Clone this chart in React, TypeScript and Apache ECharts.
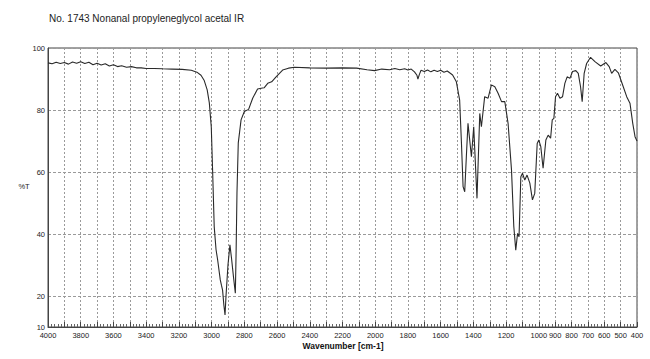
import React, { useEffect, useRef } from "react";
import * as echarts from "echarts";

const TITLE = "No. 1743 Nonanal propyleneglycol acetal IR";
const X_NAME = "Wavenumber [cm-1]";
const Y_NAME = "%T";

const wavenumbers: number[] = [
  4000, 3975, 3950, 3925, 3900, 3875, 3850, 3825, 3800, 3775, 3750, 3725, 3700, 3675, 3650, 3625,
  3600, 3575, 3550, 3520, 3490, 3460, 3430, 3400, 3350, 3300, 3241, 3180, 3124, 3090, 3065, 3045,
  3027, 3014, 3002, 2994, 2984, 2973, 2963, 2947, 2940, 2933, 2925, 2918, 2912, 2900, 2888, 2878,
  2866, 2855, 2850, 2845, 2837, 2820, 2800, 2774, 2749, 2719, 2690, 2678, 2657, 2633, 2606, 2566,
  2530, 2494, 2400, 2300, 2200, 2114, 2050, 2004, 1960, 1912, 1880, 1850, 1820, 1800, 1780, 1760,
  1745, 1739, 1730, 1720, 1700, 1680, 1660, 1640, 1620, 1600, 1580, 1560, 1545, 1527, 1504, 1484,
  1473, 1463, 1453, 1443, 1433, 1412, 1398, 1378, 1361, 1351, 1331, 1310, 1290, 1269, 1249, 1228,
  1208, 1188, 1167, 1153, 1141, 1130, 1121, 1110, 1100, 1086, 1072, 1055, 1039, 1025, 1010, 1000,
  988, 974, 957, 943, 928, 918, 908, 898, 886, 871, 855, 841, 827, 810, 794, 774,
  759, 745, 735, 723, 708, 684, 657, 622, 590, 570, 555, 535, 514, 484, 463, 443,
  426, 412, 400,
];

const transmittance: number[] = [
  95.2, 94.9, 95.4, 95.0, 95.3, 94.8, 95.5, 95.1, 95.6, 95.0, 95.4, 94.6, 95.1, 94.5, 94.9, 94.2,
  94.6, 94.0, 94.3, 93.8, 94.0, 93.6, 93.6, 93.4, 93.4, 93.3, 93.2, 93.1, 92.8, 92.2, 91.2, 89.5,
  86.5, 82.3, 74.5, 60.6, 42.3, 35.0, 31.6, 25.2, 23.5, 21.9, 17.0, 13.9, 20.0, 30.0, 36.5, 32.0,
  26.0, 20.9, 35.0, 53.2, 69.4, 76.8, 79.5, 80.2, 83.8, 86.8, 87.1, 87.2, 88.6, 89.1, 90.7, 92.9,
  93.5, 93.8, 93.6, 93.5, 93.6, 93.5, 93.0, 92.7, 93.2, 93.0, 93.4, 93.0, 93.3, 92.9, 93.2, 92.3,
  91.2, 90.0, 91.5, 92.8, 92.4, 92.9, 92.3, 92.8, 92.4, 92.8, 92.2, 92.6, 92.0, 91.3, 89.1, 83.2,
  69.4, 55.3, 53.6, 65.0, 75.7, 64.9, 74.6, 51.5, 78.9, 74.6, 84.3, 83.8, 88.1, 87.5, 85.4, 82.7,
  82.7, 75.7, 60.6, 42.4, 34.8, 40.2, 39.1, 58.5, 59.6, 57.4, 59.0, 56.4, 51.0, 53.1, 69.2, 70.3,
  68.2, 61.2, 70.3, 71.9, 70.9, 76.8, 77.3, 84.3, 85.4, 83.8, 84.3, 88.6, 90.7, 90.2, 92.4, 92.7,
  91.8, 87.5, 82.7, 91.8, 95.0, 97.0, 95.6, 94.2, 95.3, 94.0, 91.8, 93.1, 92.0, 87.5, 84.3, 82.2,
  75.7, 71.4, 70.0,
];

const yLabelsShown: number[] = [10, 20, 40, 60, 80, 100];

export default function App() {
  const ref = useRef<HTMLDivElement>(null);

  useEffect(() => {
    if (!ref.current) return;
    const chart = echarts.init(ref.current, null, { renderer: "svg" });
    const data = wavenumbers.map((w, i) => [w, transmittance[i]]);
    const font = "'Liberation Sans', Arial, sans-serif";
    chart.setOption({
      animation: false,
      backgroundColor: "#ffffff",
      grid: {
        left: 48,
        right: 13,
        top: 48,
        bottom: 32,
        show: true,
        borderColor: "#444",
        borderWidth: 1,
        backgroundColor: "transparent",
      },
      xAxis: {
        type: "value",
        min: 400,
        max: 4000,
        interval: 100,
        inverse: true,
        axisLine: { show: true, lineStyle: { color: "#444", width: 1 } },
        axisTick: { show: true, inside: true, length: 5, lineStyle: { color: "#444" } },
        minorTick: { show: true, splitNumber: 5, length: 3, lineStyle: { color: "#666" } },
        splitLine: { show: true, lineStyle: { color: "#9a9a9a", type: [2, 2], width: 1 } },
        axisLabel: {
          show: true,
          margin: 4,
          fontSize: 7.5,
          fontFamily: font,
          color: "#222",
          showMinLabel: true,
          showMaxLabel: true,
          formatter: (v: number) => (v > 1000 ? (v % 200 === 0 ? String(v) : "") : String(v)),
        },
      },
      yAxis: {
        type: "value",
        min: 10,
        max: 100,
        interval: 10,
        axisLine: { show: true, lineStyle: { color: "#444" } },
        axisTick: { show: false },
        splitLine: {
          show: true,
          lineStyle: { color: ["transparent", "#9a9a9a"], type: [3, 2], width: 1 },
        },
        axisLabel: {
          show: true,
          margin: 3,
          fontSize: 7.5,
          fontFamily: font,
          color: "#222",
          formatter: (v: number) => (yLabelsShown.includes(v) ? String(v) : ""),
        },
      },
      graphic: [
        {
          type: "text",
          left: 49,
          top: 13,
          style: { text: TITLE, fontSize: 10, fontFamily: font, fill: "#222" },
        },
        {
          type: "text",
          x: 24,
          y: 186,
          style: {
            text: Y_NAME,
            fontSize: 7.5,
            fontFamily: font,
            fill: "#222",
            align: "center",
            verticalAlign: "middle",
          },
        },
        {
          type: "text",
          x: 343,
          y: 346,
          style: {
            text: X_NAME,
            fontSize: 8.5,
            fontWeight: "bold",
            fontFamily: font,
            fill: "#111",
            align: "center",
            verticalAlign: "middle",
          },
        },
      ],
      series: [
        {
          type: "line",
          data,
          showSymbol: false,
          smooth: false,
          lineStyle: { color: "#2a2a2a", width: 1.1 },
        },
      ],
    });
    return () => chart.dispose();
  }, []);

  return (
    <div
      ref={ref}
      style={{ position: "absolute", left: 0, top: 0, width: 650, height: 359 }}
    />
  );
}
